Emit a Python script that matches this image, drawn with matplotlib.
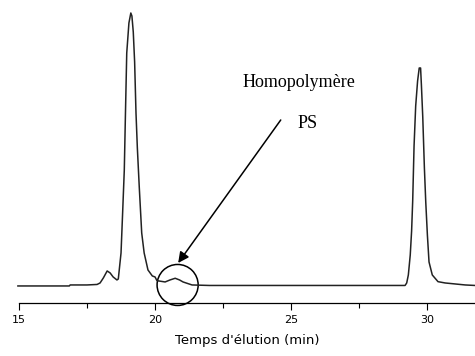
import matplotlib
matplotlib.use("Agg")
import matplotlib.pyplot as plt
from matplotlib.patches import Ellipse

# chromatogram (time in min, signal in arbitrary units)
time = [14.96, 16.85, 16.88, 17.50, 17.87, 17.98, 18.10, 18.24, 18.35, 18.46,
        18.60, 18.65, 18.75, 18.81, 18.87, 18.91, 18.96, 19.04, 19.11, 19.15,
        19.20, 19.25, 19.30, 19.35, 19.42, 19.51, 19.60, 19.74, 19.90, 20.00,
        20.07, 20.37, 20.55, 20.74, 20.90, 21.03, 21.36, 22.00, 23.50, 25.00,
        27.00, 28.50, 29.19, 29.25, 29.31, 29.38, 29.43, 29.47, 29.52, 29.58,
        29.65, 29.71, 29.76, 29.79, 29.84, 29.90, 29.95, 30.01, 30.07, 30.19,
        30.40, 30.66, 31.40, 31.76]
signal = [0, 0, 1, 1, 1.5, 3, 8, 15, 13, 9,
          6, 7, 33, 74, 116, 169, 233, 263, 273, 270,
          254, 224, 173, 138, 99, 53, 33, 16, 10, 9,
          5.3, 4, 6, 7.7, 6, 4, 1, 0.5, 0.5, 0.5,
          0.5, 0.5, 0.5, 3, 11, 31, 55, 85, 140, 180,
          205, 218, 218, 201, 169, 118, 84, 51, 24, 11,
          4.3, 3, 1, 0.5]

major_ticks = [15, 20, 25, 30]
minor_ticks = [17.5, 22.5, 27.5]

fig = plt.figure(figsize=(4.75, 3.56), dpi=100)
ax = fig.add_axes([0.04, 0.149, 0.96, 0.851])

ax.plot(time, signal, color="#222222", lw=1.1, clip_on=False)

ax.set_xlim(15, 31.76)
ax.set_ylim(-17, 286)
ax.set_xticks(major_ticks)
ax.set_xticks(minor_ticks, minor=True)
ax.set_xticklabels([str(t) for t in major_ticks], fontsize=8)
ax.tick_params(axis="x", which="major", direction="out", length=5, width=0.8, pad=4)
ax.tick_params(axis="x", which="minor", direction="out", length=3.5, width=0.8)
ax.set_yticks([])
for s in ["top", "right", "left"]:
    ax.spines[s].set_visible(False)
ax.spines["bottom"].set_linewidth(0.9)
ax.spines["bottom"].set_bounds(15, 31.76)

ax.set_xlabel("Temps d'élution (min)", fontsize=9.5, labelpad=6)

# annotation of the small PS homopolymer peak
ax.add_patch(Ellipse((20.83, 1), 1.51, 41, fill=False, lw=1.1,
                     edgecolor="black", clip_on=False))
ax.annotate("", xy=(20.85, 23), xytext=(24.62, 166),
            arrowprops=dict(arrowstyle="-|>", color="black", lw=1.1,
                            mutation_scale=16, shrinkA=0, shrinkB=0))
ax.text(25.29, 199, "Homopolymère", family="Liberation Serif", fontsize=13,
        ha="center", va="baseline")
ax.text(25.59, 158, "PS", family="Liberation Serif", fontsize=13,
        ha="center", va="baseline")

fig.savefig("out.png", dpi=100)
